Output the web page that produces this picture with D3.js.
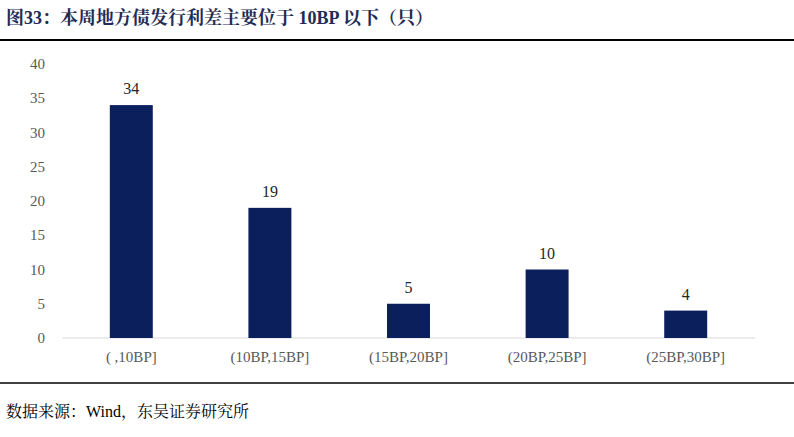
<!DOCTYPE html>
<html><head><meta charset="utf-8">
<script src="https://cdn.jsdelivr.net/npm/d3@7"></script>
<style>body{margin:0;background:#fff}</style>
</head><body>
<script>
const categories = ['( ,10BP]', '(10BP,15BP]', '(15BP,20BP]', '(20BP,25BP]', '(25BP,30BP]'];
const values = [34, 19, 5, 10, 4];
const yTicks = [0, 5, 10, 15, 20, 25, 30, 35, 40];

const W = 794, H = 437;
const svg = d3.select('body').append('svg').attr('width', W).attr('height', H);
const serif = '"Times New Roman","Liberation Serif","Noto Serif CJK SC","Noto Sans CJK SC",serif';

svg.append('text').attr('x', 6).attr('y', 24)
  .attr('font-family', serif).attr('font-weight', 'bold').attr('font-size', 18)
  .attr('fill', '#1f2d55').text('图33：本周地方债发行利差主要位于 10BP 以下（只）');
svg.append('line').attr('x1', 0).attr('x2', W).attr('y1', 40).attr('y2', 40)
  .attr('stroke', '#000').attr('stroke-width', 2);
svg.append('line').attr('x1', 0).attr('x2', W).attr('y1', 383).attr('y2', 383)
  .attr('stroke', '#000').attr('stroke-width', 1.5);
svg.append('text').attr('x', 6).attr('y', 417)
  .attr('font-family', serif).attr('font-size', 16).attr('fill', '#000')
  .text('数据来源：Wind，东吴证券研究所');

const x = d3.scaleBand().domain(categories).range([62, 755]).paddingInner(0.69).paddingOuter(0.345);
const y = d3.scaleLinear().domain([0, 40]).range([338, 64]);

svg.append('line').attr('x1', 62).attr('x2', 755).attr('y1', y(0)).attr('y2', y(0))
  .attr('stroke', '#d9d9d9');

svg.selectAll('.yt').data(yTicks).enter().append('text')
  .attr('x', 45).attr('y', d => y(d) + 5).attr('text-anchor', 'end')
  .attr('font-family', serif).attr('font-size', 15).attr('fill', '#595959').text(d => d);

svg.selectAll('.bar').data(values).enter().append('rect')
  .attr('x', (d, i) => x(categories[i])).attr('width', x.bandwidth())
  .attr('y', d => y(d)).attr('height', d => y(0) - y(d)).attr('fill', '#0b1f5c');

svg.selectAll('.lbl').data(values).enter().append('text')
  .attr('x', (d, i) => x(categories[i]) + x.bandwidth() / 2).attr('y', d => y(d) - 11)
  .attr('text-anchor', 'middle').attr('font-family', serif).attr('font-size', 16)
  .attr('fill', '#262626').text(d => d);

svg.selectAll('.xl').data(categories).enter().append('text')
  .attr('x', d => x(d) + x.bandwidth() / 2).attr('y', 362)
  .attr('text-anchor', 'middle').attr('font-family', serif).attr('font-size', 15)
  .attr('fill', '#595959').text(d => d);
</script>
</body></html>
